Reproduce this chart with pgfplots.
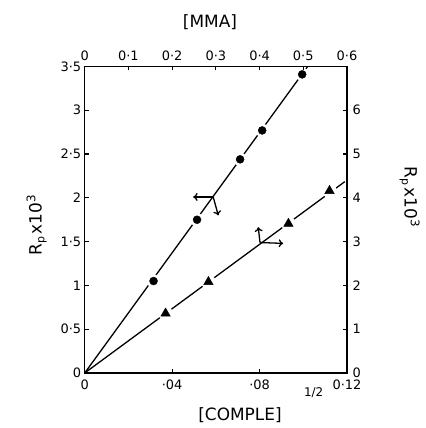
\documentclass[border=0pt]{standalone}
\usepackage{fontspec}
\setmainfont{DejaVu Sans}
\usepackage{pgfplots}
\pgfplotsset{compat=1.18}
\usetikzlibrary{arrows.meta}
\begin{document}
\begin{tikzpicture}[x=1bp,y=1bp, >={To[length=4.5bp,width=8bp]}]
\path[use as bounding box] (-84.7,-55) rectangle (341.3,373);
\pgfplotsset{every axis/.append style={
  scale only axis, width=262.3bp, height=306.5bp,
  at={(0,0)}, anchor=south west,
  tick align=inside,
  axis line style={line width=1.6bp},
  major tick style={line width=1.2bp, black},
  major tick length=4bp,
  ticklabel style={font=\fontsize{13}{15}\selectfont},
}}
\begin{axis}[
  xmin=0, xmax=0.12, ymin=0, ymax=3.5,
  xtick={0,0.04,0.08,0.12}, xticklabels={0,·04,·08,0·12},
  ytick={0,0.5,1,1.5,2,2.5,3,3.5}, yticklabels={0,0·5,1,1·5,2,2·5,3,3·5},
  xtick pos=left, ytick pos=left,
  xticklabel style={yshift=-3bp},
]
\addplot[black, line width=1.3bp] coordinates {(0,0) (0.102,3.5)};
\addplot[only marks, mark=*, mark size=6.5bp, white, mark options={fill=white, draw=white}]
  coordinates {(0.0315,1.05) (0.0514,1.75) (0.0711,2.44) (0.0812,2.77) (0.0995,3.41)};
\addplot[only marks, mark=*, mark size=4bp, black]
  coordinates {(0.0315,1.05) (0.0514,1.75) (0.0711,2.44) (0.0812,2.77) (0.0995,3.41)};
\draw[->, line width=1.3bp] (axis cs:0.0588,2.01) -- (axis cs:0.0496,2.01);
\draw[->, line width=1.3bp] (axis cs:0.0588,2.01) -- (axis cs:0.0611,1.80);
\end{axis}
\begin{axis}[
  xmin=0, xmax=0.6, ymin=0, ymax=7,
  xtick={0,0.1,0.2,0.3,0.4,0.5,0.6}, xticklabels={0,0·1,0·2,0·3,0·4,0·5,0·6},
  ytick={0,1,2,3,4,5,6}, yticklabels={0,1,2,3,4,5,6},
  axis x line*=top, axis y line*=right,
  xticklabel style={yshift=2bp},
  yticklabel style={xshift=2bp},
]
\addplot[black, line width=1.3bp] coordinates {(0,0) (0.595,4.37)};
\addplot[only marks, mark=*, mark size=7bp, white, mark options={fill=white, draw=white}]
  coordinates {(0.185,1.36) (0.283,2.08) (0.466,3.41) (0.560,4.16)};
\addplot[only marks, mark=triangle*, mark size=5.5bp, black]
  coordinates {(0.185,1.36) (0.283,2.08) (0.466,3.41) (0.560,4.16)};
\draw[->, line width=1.3bp] (axis cs:0.401,2.98) -- (axis cs:0.397,3.33);
\draw[->, line width=1.3bp] (axis cs:0.401,2.98) -- (axis cs:0.454,2.96);
\end{axis}
\node[font=\fontsize{17}{20}\selectfont] at (125.3,351) {[MMA]};
\node[font=\fontsize{17}{20}\selectfont] at (155.3,-42) {[COMPLE]};
\node[font=\fontsize{12}{14}\selectfont] at (229,-20) {1/2};
\node[font=\fontsize{17}{20}\selectfont, rotate=90] at (-48,148) {R\raisebox{-0.3ex}{\fontsize{11}{12}\selectfont p}\,x10\textsuperscript{3}};
\node[font=\fontsize{17}{20}\selectfont, rotate=-90] at (325,176) {R\raisebox{-0.3ex}{\fontsize{11}{12}\selectfont p}\,x10\textsuperscript{3}};
\end{tikzpicture}
\end{document}
